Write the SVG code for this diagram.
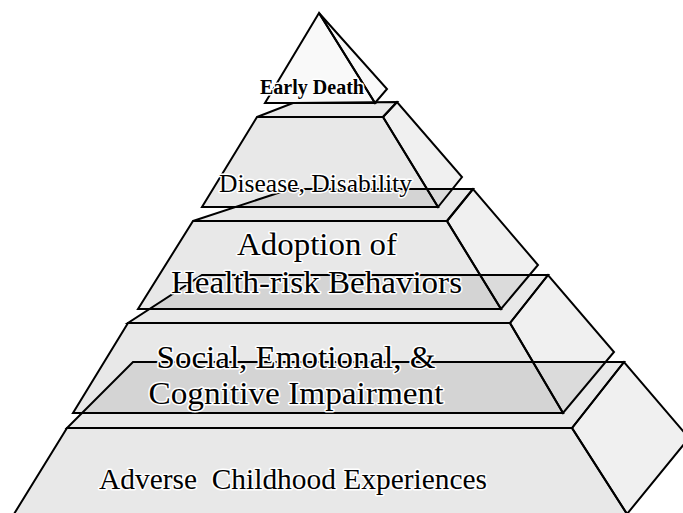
<svg xmlns="http://www.w3.org/2000/svg" width="683" height="513" viewBox="0 0 683 513">
<style>
polygon{stroke:#000;stroke-width:2;stroke-linejoin:miter;fill:#000}
.f{fill-opacity:0.09}
.t{fill-opacity:0.088}
.s{fill-opacity:0.06}
.a{fill-opacity:0.025}
text{font-family:"Liberation Serif","Times New Roman",serif;fill:#000;stroke:#fff;stroke-width:3;stroke-linejoin:round;paint-order:stroke;text-anchor:middle}
</style>
<rect width="683" height="513" fill="#fff"/>
<g id="tier5">
<polygon class="t" points="67,428 572,428 624,362 133,362"/>
<polygon class="f" points="67,428 572,428 627,514 14,514"/>
<polygon class="s" points="572,428 624,362 689,438 627,514"/>
<text x="293" y="489" font-size="29" textLength="388" lengthAdjust="spacingAndGlyphs" xml:space="preserve">Adverse  Childhood Experiences</text>
</g>
<g id="tier4">
<polygon class="t" points="128,323 510,323 548,275 202,275"/>
<polygon class="f" points="128,323 510,323 563,413 73,413"/>
<polygon class="s" points="510,323 548,275 614,352 563,413"/>
<text x="296" y="368" font-size="31" textLength="279" lengthAdjust="spacingAndGlyphs">Social, Emotional, &amp;</text>
<text x="296" y="404" font-size="31" textLength="295" lengthAdjust="spacingAndGlyphs">Cognitive Impairment</text>
</g>
<g id="tier3">
<polygon class="t" points="193,221 447,221 473,189 290,189"/>
<polygon class="f" points="193,221 447,221 501,309 138,309"/>
<polygon class="s" points="447,221 473,189 538,265 501,309"/>
<text x="317" y="255" font-size="31" textLength="160" lengthAdjust="spacingAndGlyphs">Adoption of</text>
<text x="316.5" y="293" font-size="31" textLength="291" lengthAdjust="spacingAndGlyphs">Health-risk Behaviors</text>
</g>
<g id="tier2">
<polygon class="t" points="257,117 383,117 397,102 293,103"/>
<polygon class="f" points="257,117 383,117 438,207 202,207"/>
<polygon class="s" points="383,117 397,102 462,177 438,207"/>
<text x="315.5" y="192" font-size="25" textLength="193" lengthAdjust="spacingAndGlyphs">Disease, Disability</text>
</g>
<g id="tier1">
<polygon class="a" points="319,13 265,103 375,103"/>
<polygon class="a" points="319,13 387,89 375,103"/>
<text x="312" y="94" font-size="20" font-weight="bold" textLength="104" lengthAdjust="spacingAndGlyphs">Early Death</text>
</g>
<g id="connectors"/>
</svg>
